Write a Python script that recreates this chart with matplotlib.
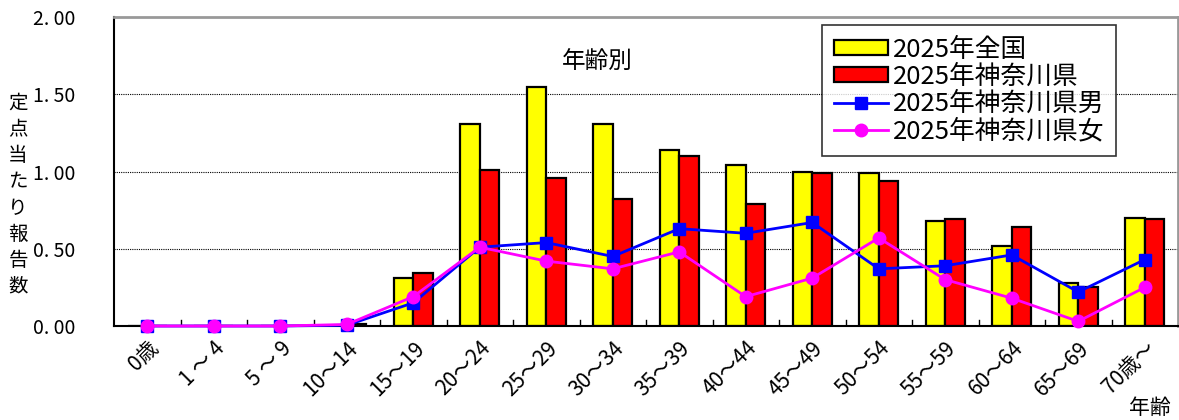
import matplotlib
matplotlib.use("Agg")
import matplotlib.pyplot as plt
import numpy as np
from matplotlib.patches import Patch
from matplotlib.lines import Line2D

plt.rcParams['font.family'] = ['Noto Sans CJK JP', 'DejaVu Sans']

categories = ["0歳", "1 ～ 4", "5 ～ 9", "10～14", "15～19", "20～24", "25～29", "30～34",
              "35～39", "40～44", "45～49", "50～54", "55～59", "60～64", "65～69", "70歳～"]
national = [0, 0, 0, 0.0, 0.31, 1.31, 1.55, 1.31, 1.14, 1.04, 1.00, 0.99, 0.68, 0.52, 0.28, 0.70]
kanagawa = [0, 0, 0, 0.01, 0.34, 1.01, 0.96, 0.82, 1.10, 0.79, 0.99, 0.94, 0.69, 0.64, 0.25, 0.69]
male = [0, 0, 0, 0.005, 0.15, 0.51, 0.54, 0.45, 0.63, 0.60, 0.67, 0.37, 0.39, 0.46, 0.22, 0.43]
female = [0, 0, 0, 0.01, 0.19, 0.51, 0.42, 0.37, 0.48, 0.19, 0.31, 0.57, 0.30, 0.18, 0.03, 0.25]
yticks = [0.0, 0.5, 1.0, 1.5, 2.0]
ytick_labels = ["0. 00", "0. 50", "1. 00", "1. 50", "2. 00"]
legend_labels = ["2025年全国", "2025年神奈川県", "2025年神奈川県男", "2025年神奈川県女"]

fig = plt.figure(figsize=(11.79, 4.2), dpi=100)
ax = fig.add_axes([114/1179, 1-326/420, 1064/1179, 309/420])

x = np.arange(len(categories))
w = 0.29
ax.bar(x - w/2, national, w, color='#FFFF00', edgecolor='black', linewidth=1.6, zorder=2)
ax.bar(x + w/2, kanagawa, w, color='#FF0000', edgecolor='black', linewidth=1.6, zorder=2)
ax.plot(x, male, color='#0000FF', lw=2, marker='s', ms=8, zorder=3, clip_on=False)
ax.plot(x, female, color='#FF00FF', lw=2, marker='o', ms=9, zorder=4, clip_on=False)

ax.set_xlim(-0.5, len(categories) - 0.5)
ax.set_ylim(0, 2.0)
ax.set_yticks(yticks)
ax.set_yticklabels(ytick_labels, fontsize=14)
ax.tick_params(axis='y', length=0, pad=28)
ax.set_xticks(x)
ax.set_xticklabels(categories, rotation=45, ha='right', va='top', rotation_mode='anchor', fontsize=15)
ax.tick_params(axis='x', length=0, pad=8)
for xb in np.arange(0.5, len(categories) - 0.5, 1.0):
    ax.plot([xb, xb], [0, 0.04], color='black', lw=1, zorder=1)
for yv in [0.5, 1.0, 1.5]:
    ax.axhline(yv, color='black', lw=0.8, ls=(0, (1, 1)), zorder=0)

ax.spines['left'].set_color('black')
ax.spines['left'].set_linewidth(1.5)
ax.spines['bottom'].set_color('black')
ax.spines['bottom'].set_linewidth(1.5)
ax.spines['top'].set_color('#999999')
ax.spines['top'].set_linewidth(2)
ax.spines['right'].set_color('#999999')
ax.spines['right'].set_linewidth(2)

fig.text(0.5 * (561 + 634) / 1179, 1 - 62 / 420, "年齢別", ha='center', va='center', fontsize=17)
fig.text(18 / 1179, 1 - 195 / 420, "\n".join("定点当たり報告数"), ha='center', va='center',
         fontsize=14, linespacing=1.32)
fig.text(1150 / 1179, 1 - 408 / 420, "年齢", ha='center', va='center', fontsize=15)

handles = [Patch(facecolor='#FFFF00', edgecolor='black', linewidth=1.6),
           Patch(facecolor='#FF0000', edgecolor='black', linewidth=1.6),
           Line2D([], [], color='#0000FF', lw=2, marker='s', ms=8),
           Line2D([], [], color='#FF00FF', lw=2, marker='o', ms=9)]
leg = fig.legend(handles, legend_labels, loc='upper left', bbox_to_anchor=(822/1179, 1 - 25/420),
                 fontsize=18.5, frameon=True, fancybox=False, edgecolor='black',
                 handlelength=2.1, handleheight=0.5, handletextpad=0.2, labelspacing=0.05,
                 borderpad=0.45, borderaxespad=0)
leg.get_frame().set_linewidth(1.2)

fig.savefig("out.png", dpi=100)
